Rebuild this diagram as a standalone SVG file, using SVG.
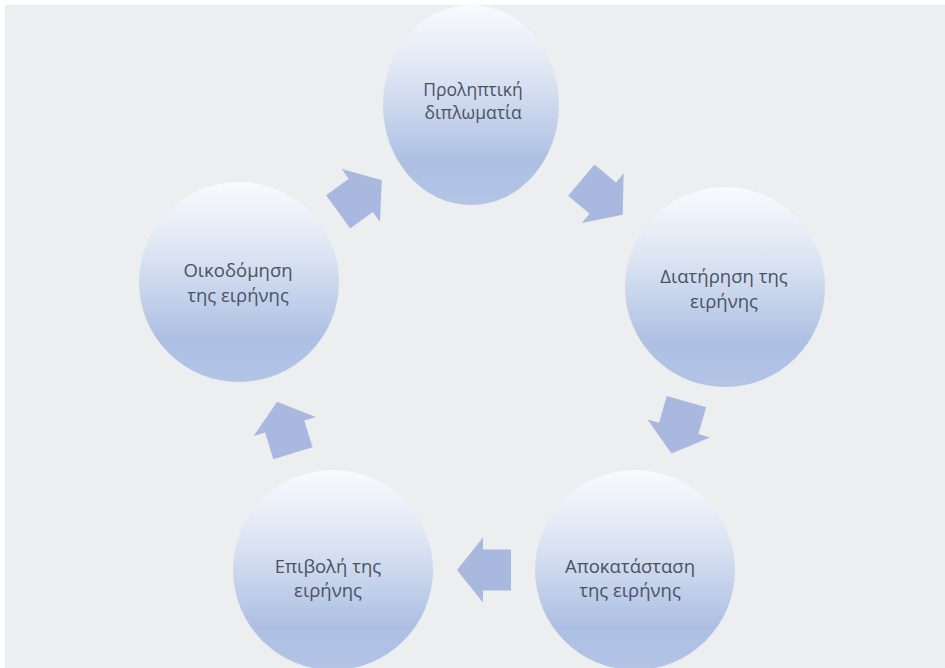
<svg xmlns="http://www.w3.org/2000/svg" width="945" height="668" viewBox="0 0 945 668">
<defs>
<linearGradient id="g" x1="0" y1="0" x2="0" y2="1">
<stop offset="0" stop-color="#f9fafd"/>
<stop offset="0.35" stop-color="#dde5f3"/>
<stop offset="0.78" stop-color="#adc0e3"/>
<stop offset="1" stop-color="#b3c4e6"/>
</linearGradient>
<path id="arr" d="M-27,-20.5 L1,-20.5 L1,-32.5 L27,0 L1,32.5 L1,20.5 L-27,20.5 Z"/>
</defs>
<style>
.node{fill:url(#g);}
.lbl{font-family:"Open Sans","Noto Sans",sans-serif;font-size:18.5px;fill:#4a5263;text-anchor:middle;}
.sm{font-size:17.5px;}
.arrow{fill:#a9b8df;}
</style>
<rect x="0" y="0" width="945" height="668" fill="#ffffff"/>
<rect x="5" y="5" width="940" height="663" fill="#edeef0"/>
<g id="connectors">
<use href="#arr" class="arrow" transform="translate(602,197.5) rotate(40)"/>
<use href="#arr" class="arrow" transform="translate(679,427.5) rotate(106)"/>
<use href="#arr" class="arrow" transform="translate(484,570) rotate(180)"/>
<use href="#arr" class="arrow" transform="translate(285,427.5) rotate(-107)"/>
<use href="#arr" class="arrow" transform="translate(360,196) rotate(-36)"/>
</g>
<g id="n1">
<ellipse class="node" cx="471" cy="105" rx="88" ry="100"/>
<text class="lbl sm" x="473" y="96">Προληπτική</text>
<text class="lbl sm" x="473" y="119">διπλωματία</text>
</g>
<g id="n2">
<circle class="node" cx="725" cy="287" r="100"/>
<text class="lbl" x="724" y="283">Διατήρηση της</text>
<text class="lbl" x="724" y="308">ειρήνης</text>
</g>
<g id="n3">
<circle class="node" cx="635" cy="570" r="100"/>
<text class="lbl" x="630" y="573">Αποκατάσταση</text>
<text class="lbl" x="630" y="597">της ειρήνης</text>
</g>
<g id="n4">
<circle class="node" cx="333" cy="570" r="100"/>
<text class="lbl" x="328" y="573">Επιβολή της</text>
<text class="lbl" x="328" y="597">ειρήνης</text>
</g>
<g id="n5">
<circle class="node" cx="239" cy="282" r="100"/>
<text class="lbl" x="238" y="277">Οικοδόμηση</text>
<text class="lbl" x="238" y="302">της ειρήνης</text>
</g>
</svg>
